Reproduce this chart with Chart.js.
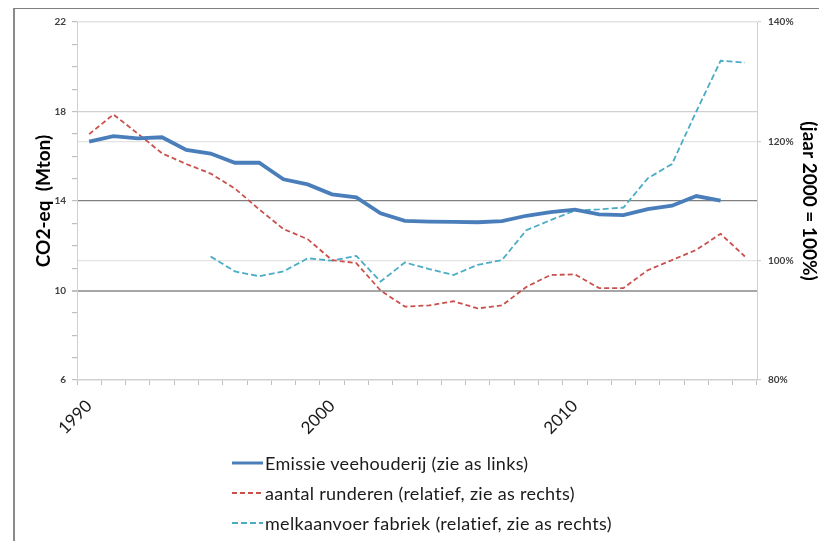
<!DOCTYPE html>
<html>
<head>
<meta charset="utf-8">
<script src="https://cdn.jsdelivr.net/npm/chart.js@4.4.0/dist/chart.umd.min.js"></script>
<style>
    html, body { margin: 0; padding: 0; background: #fff; }
    #wrap { position: relative; width: 819px; height: 541px; overflow: hidden; }
    #frame { position: absolute; left: 13px; top: 8px; right: 0; bottom: 0;
             border-left: 2px solid #8a8a8a; border-top: 1px solid #7f7f7f; }
    #chart { position: absolute; left: 0; top: 0; }
    #legend { position: absolute; left: 232px; top: 448px; font-family: Lato, sans-serif;
              font-size: 18px; letter-spacing: 0.3px; color: #1a1a1a; }
    #legend .item { display: flex; align-items: center; height: 30px; }
    #legend svg { margin-right: 2px; }
</style>
</head>
<body>
<div id="wrap">
    <div id="frame"></div>
    <canvas id="chart" width="819" height="541"></canvas>
    <div id="legend"></div>
</div>
<script>
// Years on the category axis
const years = [1990, 1991, 1992, 1993, 1994, 1995, 1996, 1997, 1998, 1999,
               2000, 2001, 2002, 2003, 2004, 2005, 2006, 2007, 2008, 2009,
               2010, 2011, 2012, 2013, 2014, 2015, 2016, 2017];

// Emissie veehouderij, Mton CO2-eq (left axis)
const emissie = [16.65, 16.9, 16.8, 16.85, 16.28, 16.12, 15.71, 15.71, 14.97, 14.74,
                 14.3, 14.16, 13.45, 13.11, 13.08, 13.07, 13.05, 13.1, 13.34, 13.5,
                 13.61, 13.4, 13.37, 13.64, 13.79, 14.22, 14.02, null];

// aantal runderen, % of 2000 (right axis)
const runderen = [121.2, 124.5, 121.3, 118.0, 116.2, 114.6, 112.1, 108.6, 105.3, 103.6,
                  100.1, 99.6, 95.0, 92.3, 92.5, 93.2, 92.0, 92.5, 95.6, 97.6,
                  97.7, 95.4, 95.4, 98.4, 100.1, 101.8, 104.5, 100.7];

// melkaanvoer fabriek, % of 2000 (right axis)
const melkaanvoer = [null, null, null, null, null, 100.7, 98.2, 97.4, 98.2, 100.4,
                     100.0, 100.8, 96.5, 99.7, 98.6, 97.6, 99.3, 100.1, 105.1, 106.8,
                     108.4, 108.6, 108.9, 113.8, 116.2, 125.0, 133.5, 133.2];

const leftTicks = [6, 10, 14, 18, 22];
const rightTicks = [80, 100, 120, 140];

const font = 'Lato, sans-serif';

// Grid line look per left-axis value
function leftGridColor(c) {
    const v = c.tick ? c.tick.value : null;
    if (v === 14) return '#808080';
    if (v === 10) return '#a6a6a6';
    if (v === 18) return '#d0d0d0';
    if (v === 22) return '#d9d9d9';
    return 'rgba(0,0,0,0)';
}

const ctx = document.getElementById('chart').getContext('2d');
const chart = new Chart(ctx, {
    type: 'line',
    data: {
        labels: years,
        datasets: [
            {
                label: 'Emissie veehouderij (zie as links)',
                data: emissie,
                yAxisID: 'y',
                borderColor: '#4a7ebb',
                borderWidth: 3.8,
                pointRadius: 0,
                tension: 0,
                order: 1
            },
            {
                label: 'aantal runderen (relatief, zie as rechts)',
                data: runderen,
                yAxisID: 'y1',
                borderColor: '#c9504d',
                borderWidth: 1.8,
                borderDash: [5, 3],
                pointRadius: 0,
                tension: 0,
                order: 2
            },
            {
                label: 'melkaanvoer fabriek (relatief, zie as rechts)',
                data: melkaanvoer,
                yAxisID: 'y1',
                borderColor: '#4bacc6',
                borderWidth: 1.8,
                borderDash: [6, 3],
                pointRadius: 0,
                tension: 0,
                order: 3
            }
        ]
    },
    options: {
        responsive: false,
        animation: false,
        layout: { padding: { top: 22, left: 0, right: 0, bottom: 0 } },
        plugins: {
            legend: { display: false },
            tooltip: { enabled: false }
        },
        scales: {
            x: {
                offset: true,
                grid: {
                    offset: true,
                    drawOnChartArea: false,
                    drawTicks: true,
                    tickLength: 5,
                    tickColor: '#bfbfbf'
                },
                border: { color: '#d0d0d0', width: 1.5 },
                ticks: {
                    autoSkip: false,
                    maxRotation: 45,
                    minRotation: 45,
                    padding: 11,
                    color: '#1a1a1a',
                    font: { family: font, size: 17 },
                    callback: function(value, index) {
                        const y = years[index];
                        return y % 10 === 0 ? String(y) : '';
                    }
                },
                afterFit: function(scale) { scale.height = 161; }
            },
            y: {
                position: 'left',
                min: 6,
                max: 22,
                grid: {
                    color: leftGridColor,
                    lineWidth: function(c) { return c.tick && c.tick.value === 10 ? 2 : 1.2; },
                    tickColor: '#bfbfbf',
                    tickLength: 5
                },
                border: { color: '#d0d0d0' },
                ticks: {
                    stepSize: 1,
                    padding: 6,
                    color: '#404040',
                    font: { family: font, size: 10, weight: 'bold' },
                    callback: function(value) {
                        return leftTicks.includes(value) ? String(value) : '';
                    }
                },
                title: {
                    display: true,
                    text: 'CO2-eq  (Mton)',
                    color: '#000',
                    font: { family: font, size: 19, weight: 'bold', lineHeight: 1.2 },
                    padding: { top: 32, bottom: 0 }
                },
                afterFit: function(scale) { scale.width = 77; }
            },
            y1: {
                position: 'right',
                min: 80,
                max: 140,
                grid: {
                    color: function(c) { return c.tick && c.tick.value === 80 ? 'rgba(0,0,0,0)' : '#e3e3e3'; },
                    lineWidth: 1.2,
                    tickColor: '#cfcfcf',
                    tickLength: 4
                },
                border: { color: '#d0d0d0' },
                ticks: {
                    stepSize: 20,
                    padding: 7,
                    color: '#404040',
                    font: { family: font, size: 10, weight: 'bold' },
                    callback: function(value) {
                        return rightTicks.includes(value) ? value + '%' : '';
                    }
                },
                title: {
                    display: true,
                    text: '(jaar 2000 = 100%)',
                    color: '#000',
                    font: { family: font, size: 19, weight: 'bold', lineHeight: 1 },
                    padding: { top: 0, bottom: 0 }
                },
                afterFit: function(scale) { scale.width = 62; }
            }
        }
    }
});

// Legend: one entry per row, drawn from the chart's datasets
function buildLegend(chart) {
    const box = document.getElementById('legend');
    box.innerHTML = '';
    chart.data.datasets.forEach(ds => {
        const row = document.createElement('div');
        row.className = 'item';
        const dash = ds.borderDash ? ds.borderDash.join(',') : 'none';
        const w = ds.borderDash ? 2 : 3;
        row.innerHTML = `
            <svg width="31" height="10"><line x1="0" y1="5" x2="31" y2="5"
                stroke="${ds.borderColor}" stroke-width="${w}" stroke-dasharray="${dash}"/></svg>
            <span>${ds.label}</span>`;
        box.appendChild(row);
    });
}
buildLegend(chart);
</script>
</body>
</html>
